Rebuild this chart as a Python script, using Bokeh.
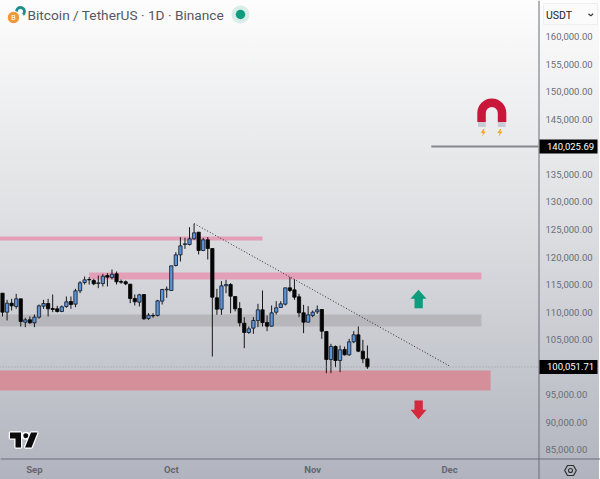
from bokeh.core.properties import value
from bokeh.embed import file_html
from bokeh.layouts import column
from bokeh.models import (
    ColumnDataSource,
    DatetimeTickFormatter,
    FixedTicker,
    NumeralTickFormatter,
    Range1d,
    Span,
)
from bokeh.plotting import figure
from bokeh.resources import INLINE
import pandas as pd

# Daily candles, first one is 25 Aug
first_day = "2025-08-25"
opens = [
    113444, 109998, 111630, 111026, 112416, 108184, 108607, 108063, 109091, 111086,
    111570, 110663, 110602, 110119, 111026, 111932, 111449, 113867, 115379, 115923,
    115741, 115197, 115197, 116648, 116286, 116951, 115560, 115500, 115076, 112477,
    111812, 113202, 108849, 109393, 109393, 111993, 114048, 113928, 118462, 120397,
    122271, 122271, 123299, 124508, 121183, 123118, 121546, 112598, 110542, 114774,
    115016, 112839, 110663, 108002, 106310, 107096, 108486, 110421, 108123, 107458,
    109998, 110844, 111449, 114411, 114048, 112779, 109877, 108184, 109393, 110058,
    110481, 106491, 101412, 103770, 101231, 103226, 102259, 104617, 105887, 102924,
    101533,
]
highs = [
    113444, 112235, 112416, 113323, 112416, 108970, 109212, 109574, 111388, 112235,
    112416, 113202, 111146, 111207, 112839, 112839, 114230, 115620, 116467, 116346,
    116044, 116648, 116951, 117072, 117737, 117374, 115923, 115741, 115076, 113202,
    113323, 113202, 109816, 109816, 112235, 114230, 114653, 118402, 120880, 123601,
    123480, 125415, 126020, 124508, 123480, 123601, 121546, 114230, 115620, 115862,
    115258, 112839, 111812, 109091, 107398, 109091, 111509, 113928, 109393, 111207,
    111993, 111993, 114411, 116346, 115923, 113323, 111328, 111086, 110300, 111207,
    110542, 106491, 104254, 103952, 103952, 103770, 105161, 106552, 107398, 104979,
    103952,
]
lows = [
    109212, 108486, 110300, 110602, 107398, 107277, 107882, 107277, 108789, 110602,
    109212, 109998, 109937, 109998, 110784, 110602, 110905, 113444, 115016, 115016,
    114895, 114351, 114653, 114653, 115923, 115016, 115137, 114895, 111630, 111207,
    111026, 108607, 108607, 108970, 109212, 111388, 112598, 113928, 118281, 119188,
    121485, 122090, 123118, 120457, 121062, 119550, 101957, 109514, 109514, 113444,
    109816, 110119, 107398, 103468, 106068, 106068, 107277, 107398, 106552, 107398,
    109574, 110784, 111207, 113625, 112235, 109091, 106189, 108184, 109091, 109695,
    105161, 98933, 98933, 100022, 99115, 102138, 102078, 104375, 102743, 100747,
    99719,
]
closes = [
    109998, 111630, 111146, 112416, 108305, 108607, 108063, 109091, 111146, 111570,
    110602, 110481, 110119, 110965, 111872, 111388, 113867, 115318, 115862, 115862,
    115137, 115318, 116527, 116346, 116890, 115500, 115439, 115137, 112477, 111872,
    113142, 108789, 109454, 109333, 112053, 114109, 114169, 118402, 120397, 122029,
    122392, 123299, 124387, 121183, 123118, 121546, 112718, 110542, 114774, 115016,
    112900, 110602, 108063, 106310, 106975, 108486, 110421, 108123, 107458, 109877,
    110784, 111509, 114411, 113928, 112718, 109877, 108184, 109514, 109998, 110421,
    106552, 101412, 103770, 101231, 103166, 102259, 104617, 105887, 102924, 101533,
    100051.71,
]

# Horizontal zones: start, end, top, bottom
zone_starts = ["2025-08-01", "2025-09-13", "2025-08-01", "2025-08-01"]
zone_ends = ["2025-10-21", "2025-12-08", "2025-12-08", "2025-12-10"]
zone_tops = [123722, 117190, 109575, 99415]
zone_bottoms = [123000, 115920, 107400, 95790]
zone_colors = ["#e39fb8", "#e39fb8", "#b7b7bb", "#d58f9a"]

trend_dates = ["2025-10-06", "2025-12-01"]
trend_prices = [126080, 100231]
magnet_date = "2025-11-27"
magnet_price = 140025.69
last_price = 100051.71

price_ticks = [85000, 90000, 95000, 105000, 110000, 115000, 120000, 125000, 130000,
               135000, 145000, 150000, 155000, 160000]
month_ticks = ["2025-09-01", "2025-10-01", "2025-11-01", "2025-12-01"]

DAY = 86400000
PX_PER_DAY = 4.57
PRICE_PER_PX = 181.39
T_SEP = pd.Timestamp("2025-09-01").timestamp() * 1000


def px_x(px):
    return T_SEP + (px - 34) / PX_PER_DAY * DAY


def px_y(py):
    return 160000 - (py - 36) * PRICE_PER_PX


def price_px(price):
    return 36 + (160000 - price) / PRICE_PER_PX


def ms(day):
    return pd.Timestamp(day).timestamp() * 1000


dates = pd.date_range(first_day, periods=len(closes))
df = pd.DataFrame(
    {"date": dates, "open": opens, "high": highs, "low": lows, "close": closes}
)
up = df[df.close >= df.open]
down = df[df.close < df.open]

# frame starts one pixel left of the page so the zones reach the edge
p = figure(
    frame_width=540,
    frame_height=458,
    x_axis_type="datetime",
    y_axis_location="right",
    x_range=Range1d(px_x(-1), px_x(539)),
    y_range=Range1d(px_y(458), px_y(0)),
    output_backend="svg",
    toolbar_location=None,
    min_border=0,
    min_border_right=61,
    min_border_bottom=21,
    background_fill_alpha=0,
    border_fill_alpha=0,
    outline_line_color=None,
    frame_align=False,
    margin=(0, 0, 0, -1),
    styles={"background": "linear-gradient(#fdfdfd 0%, #dfe0e3 45%, #b1b4be 100%)"},
)
p.grid.visible = False

for axis in [p.xaxis, p.yaxis]:
    axis.major_tick_in = 0
    axis.major_tick_out = 0
    axis.minor_tick_in = 0
    axis.minor_tick_out = 0
    axis.major_tick_line_color = None
    axis.minor_tick_line_color = None
    axis.axis_line_color = None
    axis.major_label_text_font = "Roboto"

p.xaxis.ticker = FixedTicker(ticks=[ms(d) for d in month_ticks])
p.xaxis.formatter = DatetimeTickFormatter(
    days="%b", months="%b", hours="%b", years="%b", context=None
)
p.xaxis.major_label_text_font_style = "bold"
p.xaxis.major_label_text_font_size = "9.5px"
p.xaxis.major_label_text_color = "#63666f"
p.xaxis.major_label_standoff = 5

p.yaxis.ticker = FixedTicker(ticks=price_ticks)
p.yaxis.formatter = NumeralTickFormatter(format="0,0.00")
p.yaxis.major_label_text_font_size = "9.5px"
p.yaxis.major_label_text_color = "#6a6d76"
p.yaxis.major_label_standoff = 7

# zones
p.quad(
    left=[ms(d) for d in zone_starts],
    right=[ms(d) for d in zone_ends],
    top=zone_tops,
    bottom=zone_bottoms,
    fill_color=zone_colors,
    line_color=None,
)

# levels and trend line
p.add_layout(
    Span(location=last_price, dimension="width", line_color="#9b9da6",
         line_dash="1 2", line_width=1)
)
p.segment(x0=[ms(magnet_date)], x1=[px_x(539)], y0=[magnet_price], y1=[magnet_price],
          line_color="#85878e", line_width=2)
p.line([ms(d) for d in trend_dates], trend_prices, line_color="#2b2b2f",
       line_dash="1 2", line_width=1)

# candles
p.segment("date", "high", "date", "low", source=ColumnDataSource(df),
          line_color="#17171a", line_width=1)
p.vbar("date", 0.72 * DAY, "open", "close", source=ColumnDataSource(up),
       fill_color="#5b96dc", line_color="#10151f", line_width=0.8)
p.vbar("date", 0.72 * DAY, "open", "close", source=ColumnDataSource(down),
       fill_color="#050505", line_color="#050505", line_width=0.8)

# second transparent figure on top, in picture pixels, for the header, icons and
# price tags, because a frame clips everything that sits over the axis panels
top = figure(
    frame_width=600,
    frame_height=479,
    x_range=Range1d(0, 600),
    y_range=Range1d(479, 0),
    x_axis_location=None,
    y_axis_location=None,
    output_backend="svg",
    toolbar_location=None,
    min_border=0,
    background_fill_alpha=0,
    border_fill_alpha=0,
    outline_line_color=None,
    frame_align=False,
    styles={"position": "absolute", "top": "0px", "left": "0px"},
)
top.grid.visible = False

# panel lines
top.segment(x0=[0, 538.5], y0=[458.5, 0], x1=[600, 538.5], y1=[458.5, 479],
            line_color="#6a6d78", line_width=1)

# arrows
top.patch([418, 426, 422.3, 422.3, 414, 414, 410],
          [289.3, 298.3, 298.3, 307.7, 307.7, 298.3, 298.3],
          fill_color="#0d9c7d", line_color=None)
top.patch([414, 422.3, 422.3, 426, 418, 410, 414],
          [400, 400, 409.3, 409.3, 418.7, 409.3, 409.3],
          fill_color="#d6293c", line_color=None)

# magnet
top.annular_wedge([491.3], [112.5], inner_radius=6, outer_radius=14.5,
                  inner_radius_units="screen", outer_radius_units="screen",
                  start_angle=0, end_angle=3.1416, fill_color="#c9173a", line_color=None)
top.quad(left=[476.8, 497.3], right=[485.3, 505.8], top=[112.5] * 2, bottom=[121.5] * 2,
         fill_color="#c9173a", line_color=None)
top.quad(left=[477.5, 497.3], right=[485.3, 505.1], top=[121.5] * 2, bottom=[126.5] * 2,
         fill_color="#c8ccd4", line_color=None)
bolt_x = [0, -2.6, -0.4, -1.3, 2.6, 0.4, 1.2]
bolt_y = [0, 4, 4, 7.5, 2.6, 2.6, 0]
for cx in [482.8, 499.5]:
    top.patch([cx + b for b in bolt_x], [128.5 + b for b in bolt_y],
              fill_color="#f0a92e", line_color=None)

# tradingview mark
logo_xs = [[9.5, 20.5, 20.5, 15, 15, 9.5], [37, 31, 24.5, 30.5]]
logo_ys = [[432, 432, 447, 447, 438, 438], [432, 447, 447, 432]]
top.patches(logo_xs, logo_ys, fill_color="#0b0b0d", line_color="#ffffff", line_width=2.5)
top.scatter([25.3], [435.2], size=6.5, fill_color="#0b0b0d", line_color="#ffffff",
            line_width=1.5)
top.patches(logo_xs, logo_ys, fill_color="#0b0b0d", line_color=None)

# header icons and title
top.annular_wedge([20], [11], inner_radius=2.6, outer_radius=5.4,
                  inner_radius_units="screen", outer_radius_units="screen",
                  start_angle=-0.9, end_angle=3.2, fill_color="#1e8f8d", line_color=None)
top.scatter([13], [17], size=12.5, fill_color="#ee9a3a", line_color="#ffffff", line_width=1)
top.text([13], [17.2], ["B"], text_font=value("Roboto"), text_font_size="7px",
         text_color="#ffffff", text_align="center", text_baseline="middle")
top.text([27], [14], ["Bitcoin / TetherUS · 1D · Binance"], text_font=value("Roboto"),
         text_font_size="13.7px", text_color="#55585f", text_baseline="middle")
top.scatter([240], [14], size=18, fill_color="#d8ece8", line_color=None)
top.scatter([240], [14], size=9.5, fill_color="#0d9c7d", line_color=None)

# price tags
for price in [magnet_price, last_price]:
    y = price_px(price)
    top.quad(left=[539], right=[597], top=[y - 7], bottom=[y + 7], fill_color="#000000",
             line_color=None)
    top.text([546.5], [y], [f"{price:,.2f}"], text_font=value("Roboto"),
             text_font_size="9.5px", text_color="#ffffff", text_baseline="middle")

# currency button
top.quad(left=[543], right=[597], top=[3], bottom=[24], fill_color="#fbfbfb",
         line_color="#eeeeee")
top.text([545.5], [14.5], ["USDT"], text_font=value("Roboto"), text_font_size="10.5px",
         text_color="#222226", text_baseline="middle")
top.line([588, 590.3, 592.6], [13.2, 15.4, 13.2], line_color="#333338", line_width=1.2)

# settings nut
top.patch([564.2, 567, 573, 575.8, 573, 567], [470, 465, 465, 470, 475, 475],
          fill_alpha=0, line_color="#2f3036", line_width=1.2)
top.scatter([570], [470], size=4, fill_alpha=0, line_color="#2f3036", line_width=1.1)

page = column(p, top, spacing=0)
open("out.html", "w").write(file_html(page, INLINE))
